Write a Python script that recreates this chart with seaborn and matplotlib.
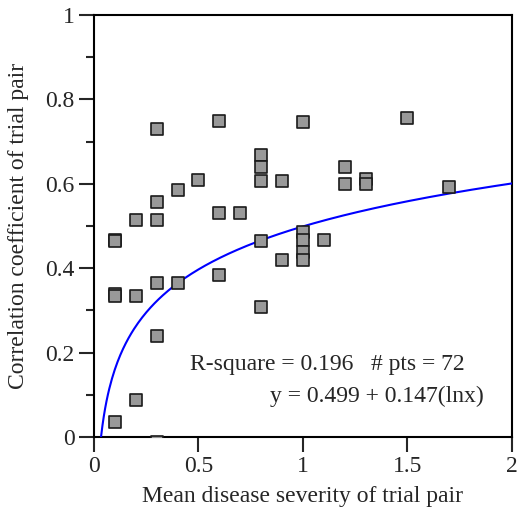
import numpy as np
import pandas as pd
import seaborn as sns
import matplotlib.pyplot as plt
from matplotlib.ticker import MultipleLocator

# severity / correlation pairs
severity = [0.1, 0.1, 0.1, 0.1, 0.1,
            0.2, 0.2, 0.2,
            0.3, 0.3, 0.3, 0.3, 0.3, 0.3,
            0.4, 0.4,
            0.5,
            0.6, 0.6, 0.6,
            0.7,
            0.8, 0.8, 0.8, 0.8, 0.8,
            0.9, 0.9,
            1.0, 1.0, 1.0, 1.0, 1.0,
            1.1,
            1.2, 1.2,
            1.3, 1.3,
            1.5,
            1.7]
corr = [0.467, 0.339, 0.333, 0.035, 0.465,
        0.514, 0.334, 0.088,
        0.729, 0.557, 0.514, 0.364, 0.239, -0.011,
        0.585, 0.364,
        0.609,
        0.750, 0.532, 0.385,
        0.532,
        0.668, 0.640, 0.607, 0.464, 0.309,
        0.607, 0.420,
        0.746, 0.486, 0.468, 0.439, 0.419,
        0.468,
        0.641, 0.600,
        0.612, 0.600,
        0.755,
        0.593]

# fitted curve from the printed equation
b0 = 0.499
b1 = 0.147
x_fit = np.linspace(np.exp(-b0 / b1), 2, 300)
y_fit = b0 + b1 * np.log(x_fit)

df = pd.DataFrame({'severity': severity, 'corr': corr})

sns.set_style("ticks")
plt.rcParams['font.family'] = ['Liberation Serif', 'DejaVu Serif']
fs = 17

fig, ax = plt.subplots(figsize=(5.18, 5.19), dpi=100)
fig.subplots_adjust(left=0.1815, right=0.988, top=0.971, bottom=0.158)

sns.lineplot(x=x_fit, y=y_fit, color='#0000ff', linewidth=1.5, ax=ax, zorder=3)
sns.scatterplot(data=df, x='severity', y='corr', marker='s', s=85,
                color='#999999', edgecolor='#1a1a1a', linewidth=1.2,
                ax=ax, zorder=4)

ax.set_xlim(0, 2)
ax.set_ylim(0, 1)
ax.set_xticks([0, 0.5, 1, 1.5, 2])
ax.set_xticklabels(['0', '0.5', '1', '1.5', '2'])
ax.set_yticks([0, 0.2, 0.4, 0.6, 0.8, 1])
ax.set_yticklabels(['0', '0.2', '0.4', '0.6', '0.8', '1'])
ax.yaxis.set_minor_locator(MultipleLocator(0.1))
ax.tick_params(axis='both', which='major', length=11, width=1.5,
               direction='out', labelsize=fs, pad=3)
ax.tick_params(axis='y', which='minor', length=6, width=1.5, direction='out')
for s in ax.spines.values():
    s.set_linewidth(1.5)
    s.set_color('black')

ax.set_xlabel('Mean disease severity of trial pair', fontsize=fs, labelpad=6)
ax.set_ylabel('Correlation coefficient of trial pair', fontsize=fs, labelpad=12)

ax.text(0.459, 0.159, 'R-square = 0.196   # pts = 72', ha='left',
        va='baseline', fontsize=fs)
ax.text(0.842, 0.082, 'y = 0.499 + 0.147(lnx)', ha='left',
        va='baseline', fontsize=fs)

fig.savefig('out.png', dpi=100)
